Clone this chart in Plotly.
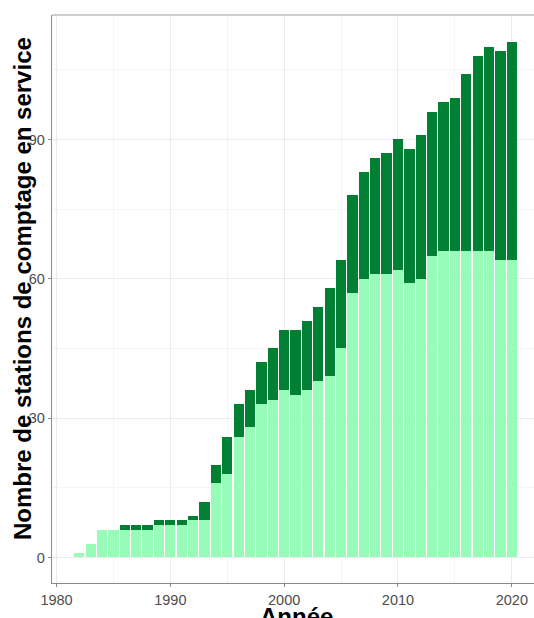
import plotly.graph_objects as go

years = list(range(1982, 2021))
light_vals = [1, 3, 6, 6, 6, 6, 6, 7, 7, 7, 8, 8, 16, 18, 26, 28, 33, 34, 36, 35,
              36, 38, 39, 45, 57, 60, 61, 61, 62, 59, 60, 65, 66, 66, 66, 66, 66, 64, 64]
dark_vals = [0, 0, 0, 0, 1, 1, 1, 1, 1, 1, 1, 4, 4, 8, 7, 8, 9, 11, 13, 14,
             15, 16, 19, 19, 21, 23, 25, 26, 28, 29, 31, 31, 32, 33, 38, 42, 44, 45, 47]
x_ticks = [1980, 1990, 2000, 2010, 2020]
y_ticks = [0, 30, 60, 90]

LIGHT = "#98FCB9"
DARK = "#017F32"

fig = go.Figure()
fig.add_trace(go.Bar(x=years, y=light_vals, marker=dict(color=LIGHT, line=dict(width=0)),
                     width=0.9, showlegend=False))
fig.add_trace(go.Bar(x=years, y=dark_vals, marker=dict(color=DARK, line=dict(width=0)),
                     width=0.9, showlegend=False))

tickfont = dict(family="Liberation Sans, Arial, sans-serif", size=14.5, color="#4d4d4d")

fig.update_layout(
    width=534, height=618,
    margin=dict(l=52, r=0, t=15, b=35),
    barmode="stack",
    paper_bgcolor="white", plot_bgcolor="white",
    xaxis=dict(range=[1979.6, 2021.95], tickvals=x_ticks, ticktext=[str(v) for v in x_ticks],
               showgrid=True, gridcolor="#ebebeb", gridwidth=1, automargin=False,
               minor=dict(tickvals=[1985, 1995, 2005, 2015], showgrid=True, gridcolor="#f4f4f4", gridwidth=0.6),
               ticks="outside", ticklen=3, tickcolor="#8a8a8a",
               showline=True, linecolor="#8a8a8a", linewidth=1.3,
               zeroline=False, tickfont=tickfont),
    yaxis=dict(range=[-5.5, 116.8], tickvals=y_ticks, ticktext=[str(v) for v in y_ticks],
               showgrid=True, gridcolor="#ebebeb", gridwidth=1, automargin=False,
               minor=dict(tickvals=[15, 45, 75, 105], showgrid=True, gridcolor="#f4f4f4", gridwidth=0.6),
               ticks="outside", ticklen=3, tickcolor="#8a8a8a",
               showline=True, linecolor="#8a8a8a", linewidth=1.3,
               zeroline=False, tickfont=tickfont),
    shapes=[dict(type="line", xref="paper", yref="paper", x0=0, x1=1, y0=1, y1=1,
                 line=dict(color="#bdbdbd", width=1.3))],
    annotations=[
        dict(text="<b>Nombre de stations de comptage en service</b>", textangle=-90,
             xref="paper", yref="paper", x=0, y=0.5, xshift=-30, yshift=10,
             xanchor="center", yanchor="middle", showarrow=False,
             font=dict(family="Liberation Sans, Arial, sans-serif", size=24, color="black")),
        dict(text="<b>Année</b>", xref="paper", yref="paper", x=0.508, y=0, yshift=-33,
             xanchor="center", yanchor="middle", showarrow=False,
             font=dict(family="Liberation Sans, Arial, sans-serif", size=24, color="black")),
    ],
)

fig.write_html("out.html", config={"displayModeBar": False},
               post_script="document.body.style.margin='0';document.body.style.overflow='hidden';")
